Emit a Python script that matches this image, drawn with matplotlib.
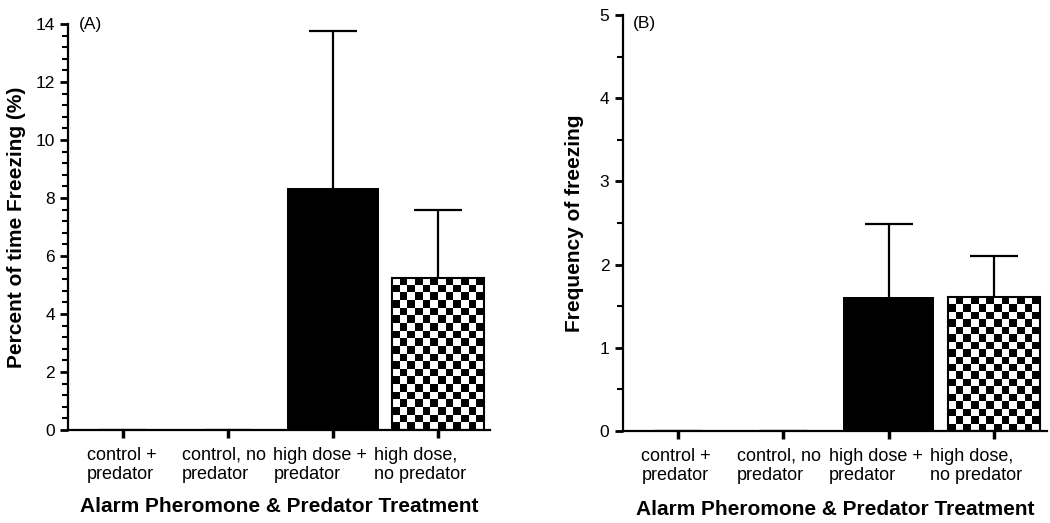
import numpy as np
import matplotlib.pyplot as plt
import matplotlib.transforms as mtrans
from matplotlib.ticker import MultipleLocator

plt.rcParams['font.family'] = ['Liberation Sans', 'DejaVu Sans']

# Datos
categories = ["control +\npredator", "control, no\npredator",
              "high dose +\npredator", "high dose,\nno predator"]
pct_mean = [0.0, 0.0, 8.35, 5.25]     # Percent of time freezing
pct_err = [0.0, 0.0, 5.4, 2.35]
freq_mean = [0.0, 0.0, 1.61, 1.61]    # Frequency of freezing
freq_err = [0.0, 0.0, 0.88, 0.49]

label_shift = [-1, -3, -9, -13]       # desplazamiento de etiquetas (pt)


def panel(ax, means, errs, ymax, major, minor, ylabel, tag, tag_y):
    x = np.arange(len(categories))
    bars = ax.bar(x, means, width=0.87, color=['black', 'black', 'black', 'none'],
                  edgecolor=['none', 'none', 'none', 'black'], linewidth=1.5, zorder=2)
    eb = ax.errorbar(x, means, yerr=[np.zeros(len(errs)), errs], fmt='none', ecolor='black',
                     elinewidth=1.6, capsize=17, capthick=1.6, zorder=1.8)
    eb[1][0].set_visible(False)   # sin tapa inferior
    ax.set_xlim(-0.52, 3.5)
    ax.set_ylim(0, ymax)

    # barra a cuadros (damero)
    b = bars[3]
    x0, y0, w, h = b.get_x(), b.get_y(), b.get_width(), b.get_height()
    p0 = ax.transData.transform((x0, y0))
    p1 = ax.transData.transform((x0 + w, y0 + h))
    nx = 12
    ny = int(round((p1[1] - p0[1]) / ((p1[0] - p0[0]) / nx)))
    checker = np.indices((ny, nx)).sum(axis=0) % 2
    ax.imshow(checker, cmap='gray', extent=(x0, x0 + w, y0, y0 + h), aspect='auto',
              interpolation='nearest', origin='lower', zorder=1.9)
    ax.set_xlim(-0.52, 3.5)
    ax.set_ylim(0, ymax)

    ax.set_xticks(x)
    ax.set_xticklabels([])
    for xi, lab, dx in zip(x, categories, label_shift):
        off = mtrans.ScaledTranslation(dx / 72, -12 / 72, ax.figure.dpi_scale_trans)
        ax.text(xi, 0, lab, transform=ax.get_xaxis_transform() + off, fontsize=13,
                ha='center', va='top', multialignment='left')
    ax.yaxis.set_major_locator(MultipleLocator(major))
    ax.yaxis.set_minor_locator(MultipleLocator(minor))
    ax.tick_params(axis='y', which='major', direction='out', length=6, width=2, labelsize=12.5)
    ax.tick_params(axis='y', which='minor', direction='out', length=4, width=1.5)
    ax.tick_params(axis='x', which='major', direction='out', length=6, width=2.5)
    for s in ['top', 'right']:
        ax.spines[s].set_visible(False)
    for s in ['left', 'bottom']:
        ax.spines[s].set_linewidth(1.6)

    ax.set_ylabel(ylabel, fontsize=15, fontweight='bold')
    ax.set_xlabel("Alarm Pheromone & Predator Treatment", fontsize=15, fontweight='bold')
    ax.xaxis.set_label_coords(0.5, -0.165)
    ax.text(0.025, tag_y, tag, transform=ax.transAxes, va='center', fontsize=12.5)


fig = plt.figure(figsize=(10.5, 5.23), dpi=100)
axA = fig.add_axes([0.065, 0.178, 0.402, 0.776])
axB = fig.add_axes([0.593, 0.176, 0.404, 0.795])

panel(axA, pct_mean, pct_err, 14, 2, 0.4, "Percent of time Freezing (%)", "(A)", 1.0)
panel(axB, freq_mean, freq_err, 5, 1, 0.5, "Frequency of freezing", "(B)", 0.98)
axA.yaxis.set_label_coords(-0.1, 0.5)
axB.yaxis.set_label_coords(-0.09, 0.5)

fig.savefig("out.png", dpi=100)
